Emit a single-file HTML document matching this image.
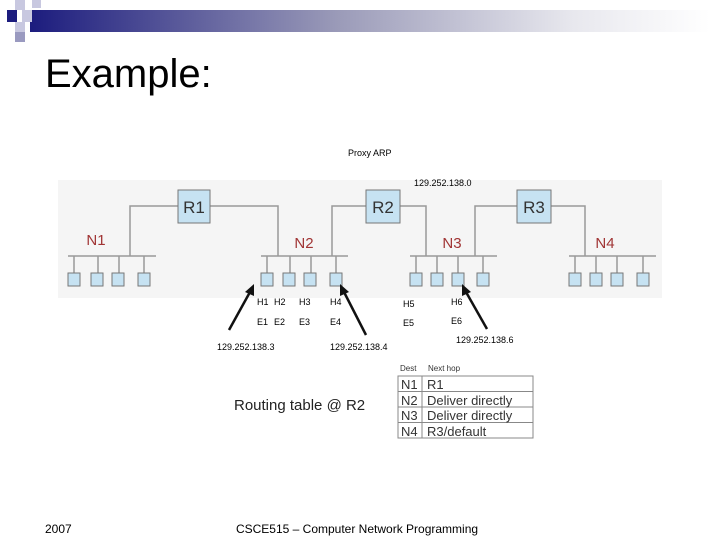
<!DOCTYPE html>
<html><head><style>body{margin:0;background:#fff}svg{display:block}</style></head><body>
<svg width="720" height="540" xmlns="http://www.w3.org/2000/svg" font-family="Liberation Sans, sans-serif">
<defs><linearGradient id="g" x1="0" x2="1"><stop offset="0" stop-color="#1c1c7e"/><stop offset="0.45" stop-color="#9a9ab8"/><stop offset="0.8" stop-color="#e8e8ee"/><stop offset="1" stop-color="#fff"/></linearGradient></defs>
<rect x="30" y="10" width="680" height="22" fill="url(#g)"/>
<rect x="15" y="0" width="10" height="10" fill="#c8c8e0"/>
<rect x="32" y="0" width="9" height="8" fill="#c8c8e0"/>
<rect x="7" y="10" width="10" height="12" fill="#1c1c7e"/>
<rect x="22" y="10" width="10" height="12" fill="#c8c8e0"/>
<rect x="15" y="22" width="10" height="10" fill="#c8c8e0"/>
<rect x="15" y="32" width="10" height="10" fill="#9a9ac0"/>
<text x="45" y="87" font-size="40">Example:</text>
<text x="348" y="156" font-size="9">Proxy ARP</text>
<rect x="58" y="180" width="604" height="118" fill="#f5f5f5"/>
<g stroke="#999" stroke-width="1.5" fill="none">
<polyline points="130,256 130,206 178,206"/><polyline points="210,206 278,206 278,256"/>
<polyline points="332,256 332,206 366,206"/><polyline points="400,206 426,206 426,256"/>
<polyline points="475,256 475,206 517,206"/><polyline points="551,206 585,206 585,256"/>
<line x1="68" y1="256" x2="156" y2="256"/><line x1="261" y1="256" x2="348" y2="256"/>
<line x1="410" y1="256" x2="497" y2="256"/><line x1="569" y1="256" x2="656" y2="256"/>
<path d="M74 256V273M98 256V273M119 256V273M144 256V273M267 256V273M290 256V273M311 256V273M336 256V273M416 256V273M437 256V273M458 256V273M483 256V273M575 256V273M596 256V273M617 256V273M643 256V273"/>
</g>
<g fill="#c6e2f2" stroke="#777">
<rect x="178" y="190" width="32" height="33"/><rect x="366" y="190" width="34" height="33"/><rect x="517" y="190" width="34" height="33"/>
<g><rect x="68" y="273" width="12" height="13"/><rect x="91" y="273" width="12" height="13"/><rect x="112" y="273" width="12" height="13"/><rect x="138" y="273" width="12" height="13"/>
<rect x="261" y="273" width="12" height="13"/><rect x="283" y="273" width="12" height="13"/><rect x="304" y="273" width="12" height="13"/><rect x="330" y="273" width="12" height="13"/>
<rect x="410" y="273" width="12" height="13"/><rect x="431" y="273" width="12" height="13"/><rect x="452" y="273" width="12" height="13"/><rect x="477" y="273" width="12" height="13"/>
<rect x="569" y="273" width="12" height="13"/><rect x="590" y="273" width="12" height="13"/><rect x="611" y="273" width="12" height="13"/><rect x="637" y="273" width="12" height="13"/></g>
</g>
<g font-size="17" fill="#333" text-anchor="middle"><text x="194" y="213">R1</text><text x="383" y="213">R2</text><text x="534" y="213">R3</text></g>
<g font-size="15" fill="#a03434" text-anchor="middle"><text x="96" y="245">N1</text><text x="304" y="248">N2</text><text x="452" y="248">N3</text><text x="605" y="248">N4</text></g>
<g font-size="9"><text x="414" y="186">129.252.138.0</text>
<text x="257" y="305">H1</text><text x="274" y="305">H2</text><text x="299" y="305">H3</text><text x="330" y="305">H4</text><text x="403" y="307">H5</text><text x="451" y="305">H6</text>
<text x="257" y="325">E1</text><text x="274" y="325">E2</text><text x="299" y="325">E3</text><text x="330" y="325">E4</text><text x="403" y="326">E5</text><text x="451" y="324">E6</text>
<text x="217" y="350">129.252.138.3</text><text x="330" y="350">129.252.138.4</text><text x="456" y="343">129.252.138.6</text></g>
<g stroke="#111" stroke-width="2.5" fill="#111">
<line x1="229" y1="330" x2="250" y2="292"/><polygon points="254,284 245,292 254,296" stroke="none"/>
<line x1="366" y1="335" x2="344" y2="292"/><polygon points="340,284 340,296 349,292" stroke="none"/>
<line x1="487" y1="329" x2="466" y2="292"/><polygon points="462,284 462,296 471,292" stroke="none"/>
</g>
<text x="234" y="410" font-size="15" fill="#222">Routing table @ R2</text>
<text x="400" y="371" font-size="8" fill="#333">Dest</text><text x="428" y="371" font-size="8" fill="#333">Next hop</text>
<g stroke="#888" fill="none"><rect x="398" y="376" width="135" height="62"/><line x1="422" y1="376" x2="422" y2="438"/>
<line x1="398" y1="391.5" x2="533" y2="391.5"/><line x1="398" y1="407" x2="533" y2="407"/><line x1="398" y1="422.5" x2="533" y2="422.5"/></g>
<g font-size="13" fill="#333"><text x="401" y="389">N1</text><text x="427" y="389">R1</text>
<text x="401" y="405">N2</text><text x="427" y="405">Deliver directly</text>
<text x="401" y="420">N3</text><text x="427" y="420">Deliver directly</text>
<text x="401" y="436">N4</text><text x="427" y="436">R3/default</text></g>
<text x="45" y="533" font-size="12">2007</text>
<text x="357" y="533" font-size="12" text-anchor="middle">CSCE515 – Computer Network Programming</text>
</svg>
</body></html>
